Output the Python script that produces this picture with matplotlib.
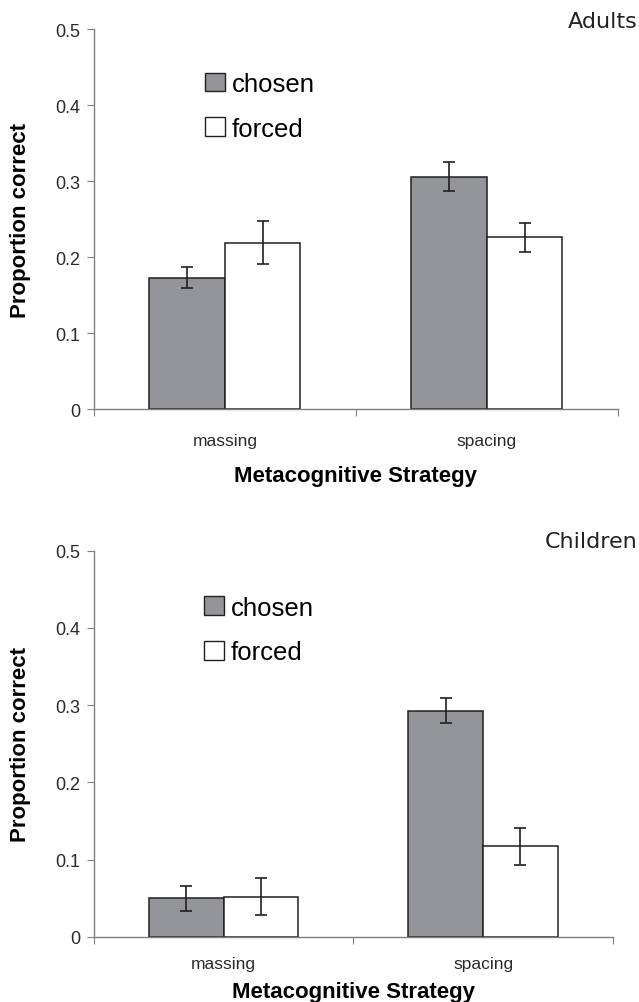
import matplotlib
matplotlib.use("Agg")
import matplotlib.pyplot as plt
import numpy as np
from matplotlib.patches import Patch

strategies = ["massing", "spacing"]
conditions = ["chosen", "forced"]

adults_chosen = [0.173, 0.306]
adults_forced = [0.219, 0.226]
adults_chosen_err = [0.014, 0.019]
adults_forced_err = [0.028, 0.019]

children_chosen = [0.050, 0.293]
children_forced = [0.052, 0.117]
children_chosen_err = [0.016, 0.016]
children_forced_err = [0.024, 0.024]

yticks = [0, 0.1, 0.2, 0.3, 0.4, 0.5]
ytick_labels = ["0", "0.1", "0.2", "0.3", "0.4", "0.5"]

GRAY = "#939598"
EDGE = "#231f20"
AXIS = "#7f7f7f"
NARROW = ["Liberation Sans Narrow", "Liberation Sans", "DejaVu Sans"]
BOLD = ["Liberation Sans", "DejaVu Sans"]


def draw_panel(ax, chosen, forced, chosen_err, forced_err, legend_y):
    x = np.arange(len(strategies))
    w = 0.288
    ax.bar(x - w / 2, chosen, w, color=GRAY, edgecolor=EDGE, linewidth=1.1, zorder=2)
    ax.bar(x + w / 2, forced, w, color="white", edgecolor=EDGE, linewidth=1.1, zorder=2)
    ax.errorbar(x - w / 2, chosen, yerr=chosen_err, fmt="none", ecolor=EDGE,
                elinewidth=1.2, capsize=4, capthick=1.2, zorder=3)
    ax.errorbar(x + w / 2, forced, yerr=forced_err, fmt="none", ecolor=EDGE,
                elinewidth=1.2, capsize=4, capthick=1.2, zorder=3)

    ax.set_xlim(-0.5, 1.5)
    ax.set_ylim(0, 0.5)
    ax.set_yticks(yticks)
    ax.set_yticklabels(ytick_labels, family=NARROW, fontsize=13, color="#2a2a2a")
    ax.set_xticks(x)
    ax.set_xticklabels(strategies, family=NARROW, fontsize=12.5, color="#2a2a2a")
    ax.set_xticks([-0.5, 0.5, 1.5], minor=True)
    ax.tick_params(axis="x", which="major", length=0, pad=17)
    ax.tick_params(axis="x", which="minor", length=5, width=0.8, color=AXIS, direction="out")
    ax.tick_params(axis="y", length=5, width=0.8, color=AXIS, direction="out", pad=5)
    for side in ["top", "right"]:
        ax.spines[side].set_visible(False)
    for side in ["left", "bottom"]:
        ax.spines[side].set_color(AXIS)
        ax.spines[side].set_linewidth(1.0)

    ax.set_ylabel("Proportion correct", family=BOLD, fontweight="bold", fontsize=16, labelpad=17)
    ax.set_xlabel("Metacognitive Strategy", family=BOLD, fontweight="bold", fontsize=16, labelpad=12)

    handles = [Patch(facecolor=GRAY, edgecolor=EDGE, linewidth=1.0),
               Patch(facecolor="white", edgecolor=EDGE, linewidth=1.0)]
    ax.legend(handles, conditions, loc="upper left", bbox_to_anchor=(0.212, legend_y),
              frameon=False, borderpad=0, borderaxespad=0,
              handlelength=0.78, handleheight=0.75, handletextpad=0.25,
              labelspacing=0.8, prop={"family": NARROW, "size": 18.5})


fig = plt.figure(figsize=(6.39, 10.03), dpi=100)
ax1 = fig.add_axes([0.147, 0.591, 0.820, 0.379])
ax2 = fig.add_axes([0.147, 0.065, 0.812, 0.385])

draw_panel(ax1, adults_chosen, adults_forced, adults_chosen_err, adults_forced_err, 0.887)
draw_panel(ax2, children_chosen, children_forced, children_chosen_err, children_forced_err, 0.883)
ax2.xaxis.labelpad = 7
ax2.tick_params(axis="x", which="major", pad=14)

fig.text(0.997, 0.978, "Adults", ha="right", va="center", family="DejaVu Sans", fontsize=16, color="#222222")
fig.text(0.997, 0.460, "Children", ha="right", va="center", family="DejaVu Sans", fontsize=16, color="#222222")

fig.savefig("out.png", dpi=100)
